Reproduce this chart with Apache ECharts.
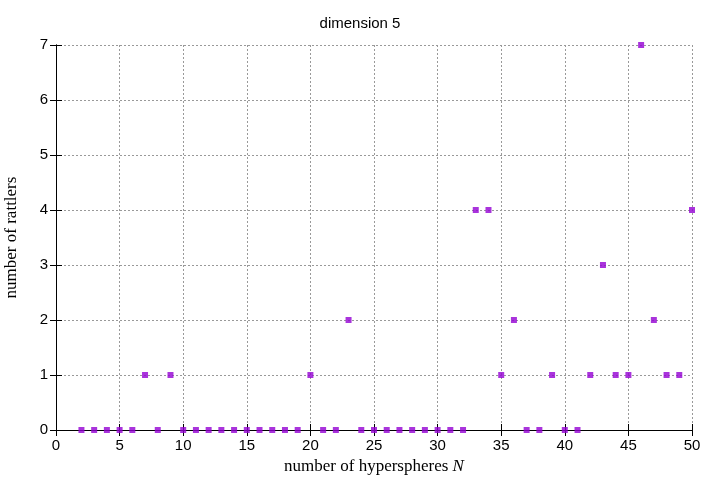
<!DOCTYPE html>
<html><head><meta charset="utf-8">
<script src="https://cdn.jsdelivr.net/npm/echarts@6/dist/echarts.min.js"></script>
<style>html,body{margin:0;background:#fff}#c{width:720px;height:480px}</style>
</head><body><div id="c"></div>
<script>
// rattlers per sphere count, dimension 5
const nValues = [2,3,4,5,6,7,8,9,10,11,12,13,14,15,16,17,18,19,20,21,22,23,24,25,26,
  27,28,29,30,31,32,33,34,35,36,37,38,39,40,41,42,43,44,45,46,47,48,49,50]
const rattlers = [0,0,0,0,0,1,0,1,0,0,0,0,0,0,0,0,0,0,1,0,0,2,0,0,0,
  0,0,0,0,0,0,4,4,1,2,0,0,1,0,0,1,3,1,1,7,2,1,1,4]

const points = nValues.map((n, i) => [n, rattlers[i]])
const sans = 'Liberation Sans'
const serif = 'Liberation Serif'

const axisCommon = {
  axisLine: { lineStyle: { color: '#000' } },
  axisTick: { inside: true, length: 6, lineStyle: { color: '#000' } },
  minorTick: { show: false },
  axisLabel: { color: '#000', fontFamily: sans, fontSize: 15 }
}

const chart = echarts.init(document.getElementById('c'))
chart.setOption({
  animation: false,
  title: { text: 'dimension 5', left: 'center', top: 11,
    textStyle: { fontFamily: sans, fontSize: 15, fontWeight: 'normal', color: '#000' } },
  grid: { left: 56, right: 28, top: 45, bottom: 50, outerBoundsMode: 'none' },
  xAxis: [
    { ...axisCommon, type: 'value', min: 0, max: 50, interval: 5,
      name: '{a|number of hyperspheres }{b|N}', nameLocation: 'middle', nameGap: 27,
      nameTextStyle: { rich: { a: { fontFamily: serif, fontSize: 17, color: '#000' },
        b: { fontFamily: serif, fontSize: 17, fontStyle: 'italic', color: '#000' } } },
      splitLine: { lineStyle: { color: '#999', type: [2, 2] } } },
    { ...axisCommon, type: 'value', min: 0, max: 50, interval: 5, position: 'top',
      axisLabel: { show: false }, splitLine: { show: false } }
  ],
  yAxis: [
    { ...axisCommon, type: 'value', min: 0, max: 7, interval: 1,
      name: 'number of rattlers', nameLocation: 'middle', nameGap: 36,
      nameTextStyle: { fontFamily: serif, fontSize: 17, color: '#000' },
      splitLine: { lineStyle: { color: '#999', type: [2, 2] } } },
    { ...axisCommon, type: 'value', min: 0, max: 7, interval: 1, position: 'right',
      axisLabel: { show: false }, splitLine: { show: false } }
  ],
  series: [{
    type: 'scatter', data: points, symbol: 'rect', symbolSize: 6,
    itemStyle: { color: '#9400d3' }, clip: false
  }]
})
</script></body></html>
